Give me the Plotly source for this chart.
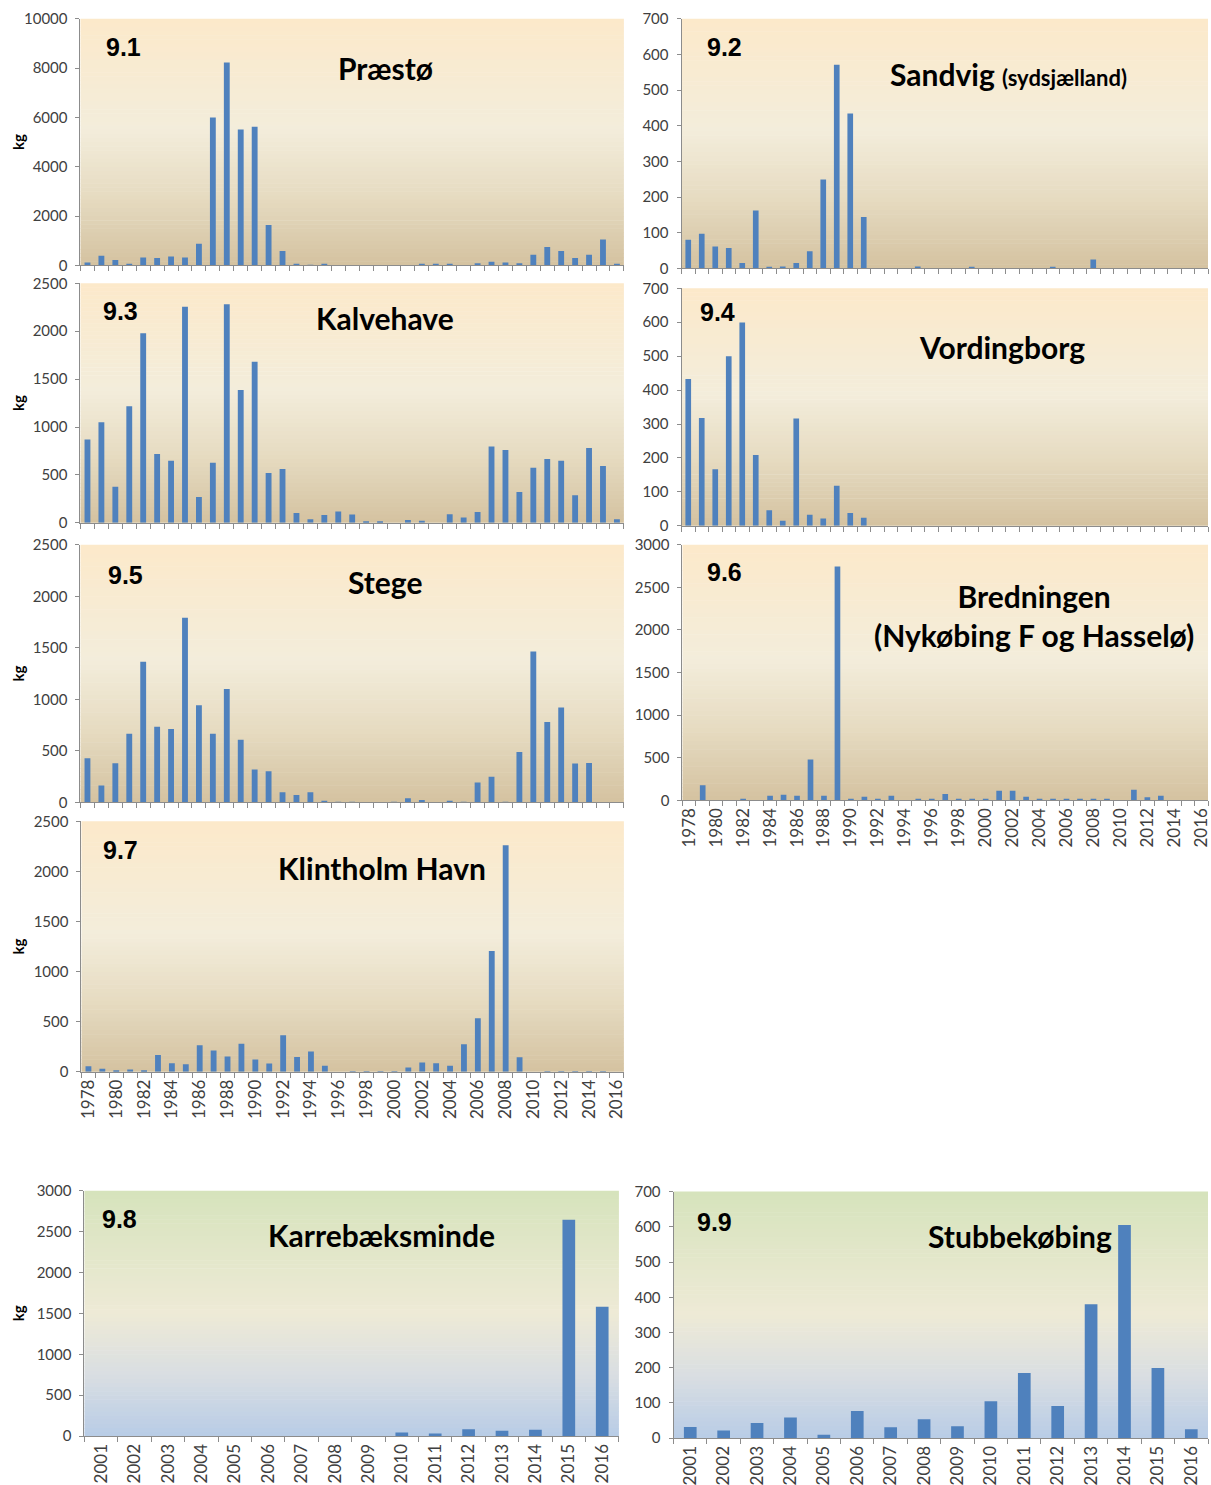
import plotly.graph_objects as go

# ---------------- data ----------------
years_long = list(range(1978, 2017))
years_short = list(range(2001, 2017))
tick_years_long = list(range(1978, 2017, 2))

praesto = [110, 390, 215, 30, 320, 300, 360, 320, 880,
           6000, 8230, 5510, 5620, 1640, 580, 30, 20, 30,
           0, 0, 0, 0, 0, 0, 30, 30, 30,
           0, 80, 150, 110, 80, 430, 740, 580, 300,
           430, 1050, 30]
sandvig = [80, 97, 61, 57, 15, 162, 3, 5, 15,
           48, 249, 571, 434, 144, 0, 0, 0, 5,
           0, 0, 0, 2, 0, 0, 0, 0, 0,
           2, 0, 0, 25, 0, 0, 0, 0, 0,
           0, 0, 0]
kalvehave = [870, 1050, 378, 1217, 1980, 718, 648, 2254, 270,
             628, 2282, 1387, 1682, 520, 562, 104, 38, 83,
             118, 87, 10, 10, 0, 31, 21, 0, 90,
             55, 114, 797, 760, 322, 576, 666, 648, 288,
             780, 593, 38]
vordingborg = [433, 318, 167, 500, 599, 209, 46, 15, 316,
               33, 22, 118, 38, 24, 0, 0, 0, 0,
               0, 0, 0, 0, 0, 0, 0, 0, 0,
               0, 0, 0, 0, 0, 0, 0, 0, 0,
               0, 0, 0]
stege = [428, 164, 380, 666, 1364, 734, 711, 1792, 943,
         666, 1100, 608, 318, 302, 97, 71, 97, 13,
         5, 5, 0, 0, 5, 39, 22, 0, 12,
         5, 193, 248, 5, 489, 1464, 779, 920, 376,
         383, 0, 0]
bredningen = [0, 176, 0, 0, 20, 0, 55, 66, 55,
              480, 55, 2746, 10, 43, 20, 55, 0, 10,
              20, 74, 10, 10, 10, 113, 113, 43, 20,
              10, 10, 10, 10, 10, 0, 125, 35, 55,
              0, 0, 0]
klintholm = [56, 30, 10, 23, 17, 169, 86, 76, 265,
             212, 152, 281, 122, 83, 364, 149, 202, 60,
             0, 5, 5, 5, 5, 43, 93, 86, 60,
             275, 536, 1205, 2262, 146, 0, 5, 5, 5,
             5, 5, 0]
karrebaeksminde = [0, 0, 0, 0, 0, 0, 0, 0, 0, 45, 33, 86, 65, 78, 2645, 1580]
stubbekobing = [32, 22, 43, 59, 10, 77, 31, 54, 34, 105, 185, 91, 380, 605, 199, 25]

panel_numbers = ["9.1", "9.2", "9.3", "9.4", "9.5", "9.6", "9.7", "9.8", "9.9"]
panel_titles = ["Præstø",
                "Sandvig <span style='font-size:22px'>(sydsjælland)</span>",
                "Kalvehave", "Vordingborg", "Stege",
                "Bredningen<br>(Nykøbing F og Hasselø)",
                "Klintholm Havn", "Karrebæksminde", "Stubbekøbing"]

# ---------------- styling ----------------
W, H = 1211, 1485
BAR = "#4F81BD"
AXIS = "#8C8C8C"
TXT = "#404040"
FONT = "Lato"

YELLOW = [(0.0, (252, 233, 202)), (0.45, (243, 237, 219)), (0.72, (230, 219, 193)), (1.0, (212, 194, 160))]
GREEN = [(0.0, (214, 227, 188)), (0.5, (238, 234, 214)), (0.75, (217, 222, 226)), (1.0, (184, 204, 230))]

# (series, x years, box px (x0, x1, ytop, ybottom), ymax, dtick, show x labels, kg label, gradient,
#  number pos, title pos)
specs = [
    (praesto, years_long, (76, 623, 18, 265), 10000, 2000, False, True, YELLOW, (119, 46), (383, 67)),
    (sandvig, years_long, (681, 1211, 18, 268), 700, 100, False, False, YELLOW, (724, 46), (1010, 73)),
    (kalvehave, years_long, (76, 623, 283, 523), 2500, 500, False, True, YELLOW, (116, 311), (383, 318)),
    (vordingborg, years_long, (681, 1211, 288, 526), 700, 100, False, False, YELLOW, (717, 312), (1004, 347)),
    (stege, years_long, (76, 623, 545, 803), 2500, 500, False, True, YELLOW, (121, 575), (383, 582)),
    (bredningen, years_long, (682, 1211, 545, 801), 3000, 500, True, False, YELLOW, (724, 572), (1036, 616)),
    (klintholm, years_long, (77, 623, 822, 1073), 2500, 500, True, True, YELLOW, (116, 851), (380, 869)),
    (karrebaeksminde, years_short, (80, 618, 1192, 1438), 3000, 500, True, True, GREEN, (115, 1220), (379, 1236)),
    (stubbekobing, years_short, (673, 1211, 1193, 1440), 700, 100, True, False, GREEN, (714, 1223), (1022, 1237)),
]

# screen-to-figure vertical correction observed in the rendered page
OY, SY = 9.2, 0.987


def fy(py):
    """paper y fraction for a reference pixel row"""
    return 1 - ((py - OY) / SY) / H


def grad_color(stops, t):
    for (t0, c0), (t1, c1) in zip(stops[:-1], stops[1:]):
        if t0 <= t <= t1:
            f = (t - t0) / (t1 - t0)
            c = [round(a + (b - a) * f) for a, b in zip(c0, c1)]
            return f"rgb({c[0]},{c[1]},{c[2]})"
    c = stops[-1][1]
    return f"rgb({c[0]},{c[1]},{c[2]})"


fig = go.Figure()
shapes = []
annotations = []
layout = {}

for i, (vals, yrs, box, ymax, dtick, showlab, kg, grad, numpos, titlepos) in enumerate(specs, start=1):
    sx = "" if i == 1 else str(i)
    x0, x1, yt, yb = box
    fig.add_trace(go.Bar(x=yrs, y=vals, marker_color=BAR, marker_line_width=0,
                         width=0.42 if len(yrs) > 20 else 0.38,
                         xaxis="x" + sx, yaxis="y" + sx, showlegend=False))
    tv = tick_years_long if len(yrs) > 20 else yrs
    bounds = [y - 0.5 for y in yrs] + [yrs[-1] + 0.5]
    layout["xaxis" + sx] = dict(
        domain=[x0 / W, min(x1 / W, 1.0)], anchor="y" + sx,
        range=[yrs[0] - 0.5, yrs[-1] + 0.5],
        tickmode="array", tickvals=tv, ticktext=[str(v) for v in tv],
        showticklabels=showlab, tickangle=-90, ticklabeloverflow="allow",
        tickfont=dict(family=FONT, size=17, color=TXT),
        ticks="", showline=True, linecolor=AXIS, linewidth=1,
        showgrid=False, zeroline=False, fixedrange=True,
        minor=dict(tickmode="array", tickvals=bounds, ticks="outside",
                   ticklen=5, tickcolor=AXIS, tickwidth=1, showgrid=False),
    )
    layout["yaxis" + sx] = dict(
        domain=[fy(yb), fy(yt)], anchor="x" + sx,
        range=[0, ymax], dtick=dtick, tick0=0, tickformat="d",
        tickfont=dict(family=FONT, size=15, color=TXT),
        ticks="outside", ticklen=4, tickcolor=AXIS, ticklabelstandoff=5,
        showline=True, linecolor=AXIS, linewidth=1,
        showgrid=False, zeroline=False, fixedrange=True,
    )
    # gradient plot-area background
    N = 60
    for k in range(N):
        t0, t1 = k / N, (k + 1) / N
        shapes.append(dict(type="rect", xref=f"x{sx} domain", yref=f"y{sx} domain",
                           x0=0, x1=1, y0=max(0, 1 - t1 - 0.002), y1=1 - t0,
                           fillcolor=grad_color(grad, (t0 + t1) / 2),
                           line=dict(width=0), layer="below"))
    annotations.append(dict(text="<b>" + panel_numbers[i - 1] + "</b>", x=numpos[0] / W, y=fy(numpos[1]),
                            xref="paper", yref="paper", showarrow=False, xanchor="center", yanchor="middle",
                            font=dict(family="Liberation Sans", size=25, color="black")))
    annotations.append(dict(text="<b>" + panel_titles[i - 1] + "</b>", x=titlepos[0] / W, y=fy(titlepos[1]),
                            xref="paper", yref="paper", showarrow=False, xanchor="center", yanchor="middle",
                            font=dict(family=FONT, size=30, color="black")))
    if kg:
        annotations.append(dict(text="<b>kg</b>", x=13 / W, y=fy((yt + yb) / 2),
                                xref="paper", yref="paper", showarrow=False, textangle=-90,
                                xanchor="center", yanchor="middle",
                                font=dict(family=FONT, size=15, color="black")))

fig.update_layout(
    width=W, height=H, margin=dict(l=0, r=0, t=0, b=0),
    paper_bgcolor="white", plot_bgcolor="white",
    shapes=shapes, annotations=annotations, bargap=0.5,
    **layout,
)

fig.write_html("out.html", config={"displayModeBar": False},
               post_script="document.body.style.margin='0';document.body.style.overflow='hidden';")
